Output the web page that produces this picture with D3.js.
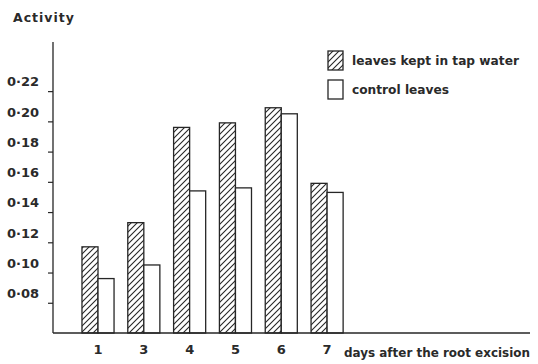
<!DOCTYPE html>
<html>
<head>
<meta charset="utf-8">
<script src="https://cdn.jsdelivr.net/npm/d3@7/dist/d3.min.js"></script>
<style>
  html, body { margin: 0; padding: 0; background: #fff; }
  svg { display: block; }
  text { font-family: "DejaVu Sans", sans-serif; font-weight: bold; fill: #2a2a2a; }
</style>
</head>
<body>
<svg id="chart" width="538" height="364"></svg>
<script>
// Enzyme activity of detached leaves over days after root excision
const days = ["1", "3", "4", "5", "6", "7"];
const tapWater = [0.117, 0.133, 0.196, 0.199, 0.209, 0.159];
const controlLeaves = [0.096, 0.105, 0.154, 0.156, 0.205, 0.153];
const seriesNames = ["leaves kept in tap water", "control leaves"];
const yTickValues = [0.08, 0.10, 0.12, 0.14, 0.16, 0.18, 0.20, 0.22];
const yTickLabels = ["0·08", "0·10", "0·12", "0·14", "0·16", "0·18", "0·20", "0·22"];

const svg = d3.select("#chart");
const ink = "#262626";

const axisX = 53, baseY = 333, axisTop = 42, axisRight = 530;

const y = d3.scaleLinear().domain([0.06, 0.2525]).range([baseY, axisTop]);
const x = d3.scaleBand().domain(days).range([75.1, 350]).paddingInner(0.3).paddingOuter(0.15);
const xs = d3.scaleBand().domain(seriesNames).range([0, x.bandwidth()]);

// diagonal hatching for the tap-water series
const defs = svg.append("defs");
const pat = defs.append("pattern")
  .attr("id", "hatch").attr("patternUnits", "userSpaceOnUse")
  .attr("width", 6).attr("height", 6);
pat.append("path")
  .attr("d", "M0,6 L6,0 M-1.5,1.5 L1.5,-1.5 M4.5,7.5 L7.5,4.5")
  .attr("stroke", ink).attr("stroke-width", 1.1).attr("fill", "none");

const fills = ["url(#hatch)", "#fff"];
const values = [tapWater, controlLeaves];

// bars
seriesNames.forEach((name, s) => {
  svg.append("g").selectAll("rect")
    .data(days.map((d, i) => ({ day: d, v: values[s][i] })))
    .join("rect")
    .attr("x", d => x(d.day) + xs(name))
    .attr("y", d => y(d.v))
    .attr("width", xs.bandwidth())
    .attr("height", d => baseY - y(d.v))
    .attr("fill", fills[s])
    .attr("stroke", ink).attr("stroke-width", 1.3);
});

// y axis
const yAxis = svg.append("g")
  .attr("transform", `translate(${axisX},0)`)
  .call(d3.axisLeft(y).tickValues(yTickValues)
    .tickFormat((d, i) => yTickLabels[i]).tickSize(5).tickPadding(9));
yAxis.select(".domain").remove();
yAxis.selectAll(".tick line").attr("stroke", ink).attr("stroke-width", 1.2);
yAxis.selectAll(".tick text")
  .attr("dy", "-0.4em").style("font-size", "13px")
  .style("font-family", "DejaVu Sans").style("font-weight", "bold").attr("fill", "#2a2a2a");
svg.append("line")
  .attr("x1", axisX).attr("x2", axisX).attr("y1", axisTop).attr("y2", baseY)
  .attr("stroke", ink).attr("stroke-width", 1.3);

// x axis
svg.append("line")
  .attr("x1", axisX).attr("x2", axisRight).attr("y1", baseY).attr("y2", baseY)
  .attr("stroke", ink).attr("stroke-width", 1.3);
const xAxis = svg.append("g")
  .attr("transform", `translate(0,${baseY})`)
  .call(d3.axisBottom(x).tickSize(0).tickPadding(12));
xAxis.select(".domain").remove();
xAxis.selectAll(".tick text").style("font-size", "13px")
  .style("font-family", "DejaVu Sans").style("font-weight", "bold").attr("fill", "#2a2a2a");

svg.append("text")
  .attr("x", 344).attr("y", 357)
  .style("font-size", "11.8px")
  .attr("textLength", 186).attr("lengthAdjust", "spacingAndGlyphs")
  .text("days after the root excision");

svg.append("text")
  .attr("x", 13).attr("y", 22)
  .style("font-size", "12.5px")
  .style("letter-spacing", "1px")
  .text("Activity");

// legend
const legend = svg.append("g");
seriesNames.forEach((name, s) => {
  const top = [51, 80][s];
  legend.append("rect")
    .attr("x", 328).attr("y", top).attr("width", 15).attr("height", 19)
    .attr("fill", fills[s]).attr("stroke", ink).attr("stroke-width", 1.3);
  legend.append("text")
    .attr("x", 352).attr("y", top + 14)
    .style("font-size", "12.2px")
    .text(name);
});
</script>
</body>
</html>
